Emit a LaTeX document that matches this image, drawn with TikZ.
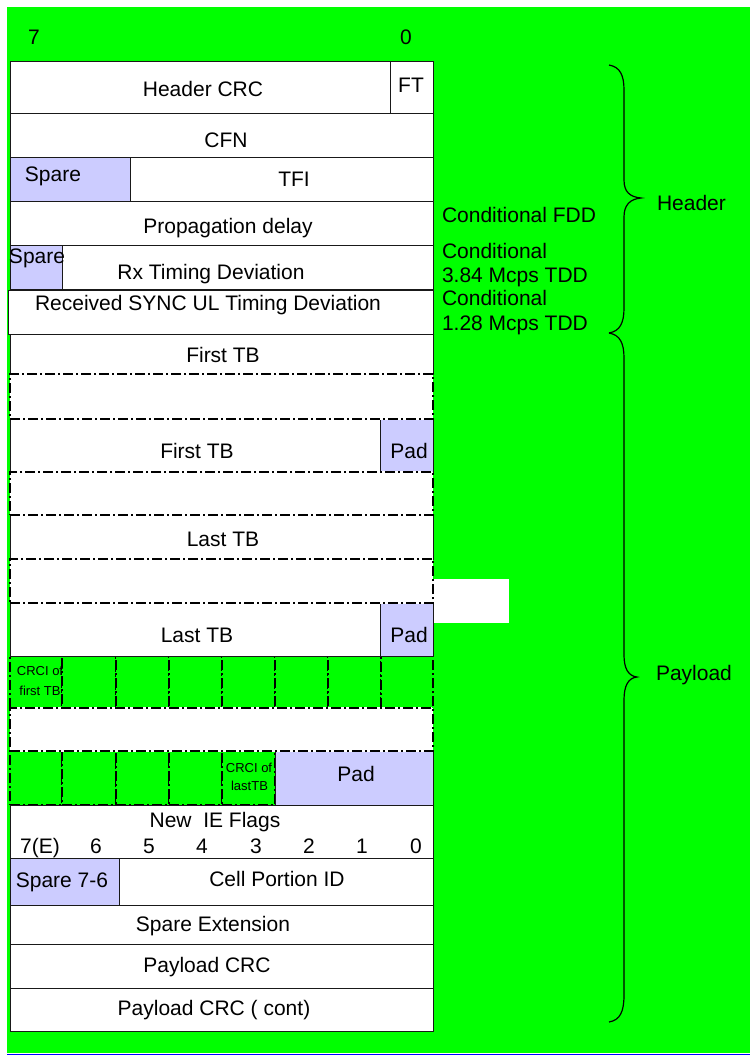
\documentclass[tikz,border=0pt]{standalone}
\usepackage{fontspec}
\setmainfont{Liberation Sans}
\definecolor{bg}{RGB}{0,255,0}
\definecolor{lav}{RGB}{204,204,255}
\definecolor{edge}{RGB}{25,25,25}
\newcommand\mkcell[6]{\node[#6, minimum width={(#4-#2)*1pt}, minimum height={(#5-#3)*1pt}] (#1) at (#2,#3) {};}
\tikzset{
  basecell/.style={inner sep=0pt, outer sep=0pt, anchor=north west, line width=1pt},
  solidcell/.style={basecell, draw=edge, fill=white},
  lavcell/.style={basecell, draw=edge, fill=lav},
  dashdot/.style={dash pattern=on 10pt off 3pt on 2pt off 3pt},
  dashcell/.style={basecell, draw=black, fill=white, dashdot, line width=1.3pt},
  greencell/.style={basecell, draw=black, fill=bg, dashdot, line width=1.3pt},
  txt/.style={inner sep=0pt, outer sep=0pt, font=\fontsize{21}{25}\selectfont, text height=15pt, text depth=0pt},
  smalltxt/.style={inner sep=0pt, outer sep=0pt, font=\fontsize{13}{16}\selectfont, text height=9.3pt, text depth=0pt},
  bracepath/.style={draw=black, line width=1.2pt}
}
\begin{document}
\begin{tikzpicture}[x=1pt,y=-1pt]
\useasboundingbox (0,0) rectangle (750,1055);
\fill[white] (0,0) rectangle (750,1055);
\fill[bg] (7,7) rectangle (750,1053);
\draw[blue, line width=1pt] (7,1054) -- (750,1054);
\fill[white] (433,579) rectangle (509,623);

% top bit labels
\node[txt] (b7) at (34,37) {7};
\node[txt] (b0) at (406,37) {0};

% green CRCI rows (drawn first so solid neighbours overwrite shared edges)
\foreach \a/\b [count=\i] in {10/62,62/116,116/169,169/222,222/275,275/328,328/381,381/433}
  {\mkcell{ga\i}{\a}{656}{\b}{708}{greencell}}
\foreach \a/\b [count=\i] in {10/62,62/116,116/169,169/222,222/275}
  {\mkcell{gb\i}{\a}{751}{\b}{805}{greencell}}
\mkcell{gbpad}{275}{751}{433}{805}{lavcell}

% solid rows
\mkcell{hcrc}{10}{61}{433}{113}{solidcell}
\mkcell{ft}{390}{61}{433}{113}{solidcell}
\mkcell{cfn}{10}{113}{433}{157}{solidcell}
\mkcell{tfi}{10}{157}{433}{201}{solidcell}
\mkcell{sp1}{10}{157}{130}{201}{lavcell}
\mkcell{prop}{10}{201}{433}{245}{solidcell}
\mkcell{rx}{10}{245}{433}{289}{solidcell}
\mkcell{sp2}{10}{245}{62}{289}{lavcell}
\mkcell{sync}{8}{290}{433}{334}{solidcell}
\mkcell{ftb1}{10}{334}{433}{374}{solidcell}
\mkcell{ftb2}{10}{419}{433}{472}{solidcell}
\mkcell{pad1}{380}{419}{433}{472}{lavcell}
\mkcell{ltb1}{10}{515}{433}{559}{solidcell}
\mkcell{ltb2}{10}{603}{433}{656}{solidcell}
\mkcell{pad2}{380}{603}{433}{656}{lavcell}
\mkcell{ief}{10}{805}{433}{858}{solidcell}
\mkcell{cpi}{10}{858}{433}{905}{solidcell}
\mkcell{sp3}{10}{858}{119}{905}{lavcell}
\mkcell{spx}{10}{905}{433}{944}{solidcell}
\mkcell{pcrc}{10}{944}{433}{988}{solidcell}
\mkcell{pcrc2}{10}{988}{433}{1031}{solidcell}

% dashed (repeated) rows
\foreach \n/\a/\b in {da/374/419,db/472/515,dc/559/603,dd/708/751}{
  \fill[white] (10.6,\a-1.2) rectangle (432.4,\b+1.2);
  \mkcell{\n}{10}{\a}{433}{\b}{dashcell}
}

% texts
\node[txt] (t1) at (203,89) {Header CRC};
\node[txt] (t2) at (411,85) {FT};
\node[txt] (t3) at (226,140) {CFN};
\node[txt] (t4) at (53,174) {Spare};
\node[txt] (t5) at (294,179) {TFI};
\node[txt] (t6) at (228,226) {Propagation delay};
\node[txt, anchor=west] (t7) at (9,256) {Spare};
\node[txt] (t8) at (211,272) {Rx Timing Deviation};
\node[txt] (t9) at (208,303) {Received SYNC UL Timing Deviation};
\node[txt] (t10) at (223,354.5) {First TB};
\node[txt] (t11) at (197,450.5) {First TB};
\node[txt] (t12) at (409,450.5) {Pad};
\node[txt] (t13) at (223,539) {Last TB};
\node[txt] (t14) at (197,634.5) {Last TB};
\node[txt] (t15) at (409,634.5) {Pad};
\node[smalltxt] (t16) at (40,671) {CRCI of};
\node[smalltxt] (t17) at (40,690.5) {first TB};
\node[smalltxt] (t18) at (249,768) {CRCI of};
\node[smalltxt] (t19) at (249.5,786) {lastTB};
\node[txt] (t20) at (356,774) {Pad};
\node[txt] (t21) at (215,820) {New\ \ IE Flags};
\foreach \x/\s [count=\i] in {40/7(E),96/6,149/5,202/4,256/3,309/2,362/1,416/0}
  {\node[txt] (bit\i) at (\x,845.5) {\s};}
\node[txt] (t22) at (62,880) {Spare 7-6};
\node[txt] (t23) at (277,879) {Cell Portion ID};
\node[txt] (t24) at (213,924) {Spare Extension};
\node[txt] (t25) at (207,965) {Payload CRC};
\node[txt] (t26) at (214,1008) {Payload CRC ( cont)};

% right-hand notes
\node[txt, anchor=west] (c1) at (442,215) {Conditional FDD};
\node[txt, anchor=west] (c2) at (442,251) {Conditional};
\node[txt, anchor=west] (c3) at (442,275) {3.84 Mcps TDD};
\node[txt, anchor=west] (c4) at (442,298) {Conditional};
\node[txt, anchor=west] (c5) at (442,322.5) {1.28 Mcps TDD};

% braces
\coordinate (hA) at (609,65);
\coordinate (hTip) at (641,198);
\coordinate (hB) at (609,333);
\coordinate (pA) at (609,333);
\coordinate (pTip) at (637,677);
\coordinate (pB) at (609,1022);
\draw[bracepath] (hA) .. controls (620,67) and (624,75) .. (624,90) -- (624,180)
  .. controls (624,192) and (630,197) .. (hTip)
  .. controls (630,199) and (624,205) .. (624,217) -- (624,308)
  .. controls (624,323) and (620,331) .. (hB);
\draw[bracepath] (pA) .. controls (620,335) and (624,343) .. (624,358) -- (624,655)
  .. controls (624,668) and (628,676) .. (pTip)
  .. controls (628,678) and (624,686) .. (624,700) -- (624,995)
  .. controls (624,1012) and (620,1020) .. (pB);
\node[txt, anchor=west] (hdr) at (657,203) {Header};
\node[txt, anchor=west] (pay) at (656,673) {Payload};
\end{tikzpicture}
\end{document}
